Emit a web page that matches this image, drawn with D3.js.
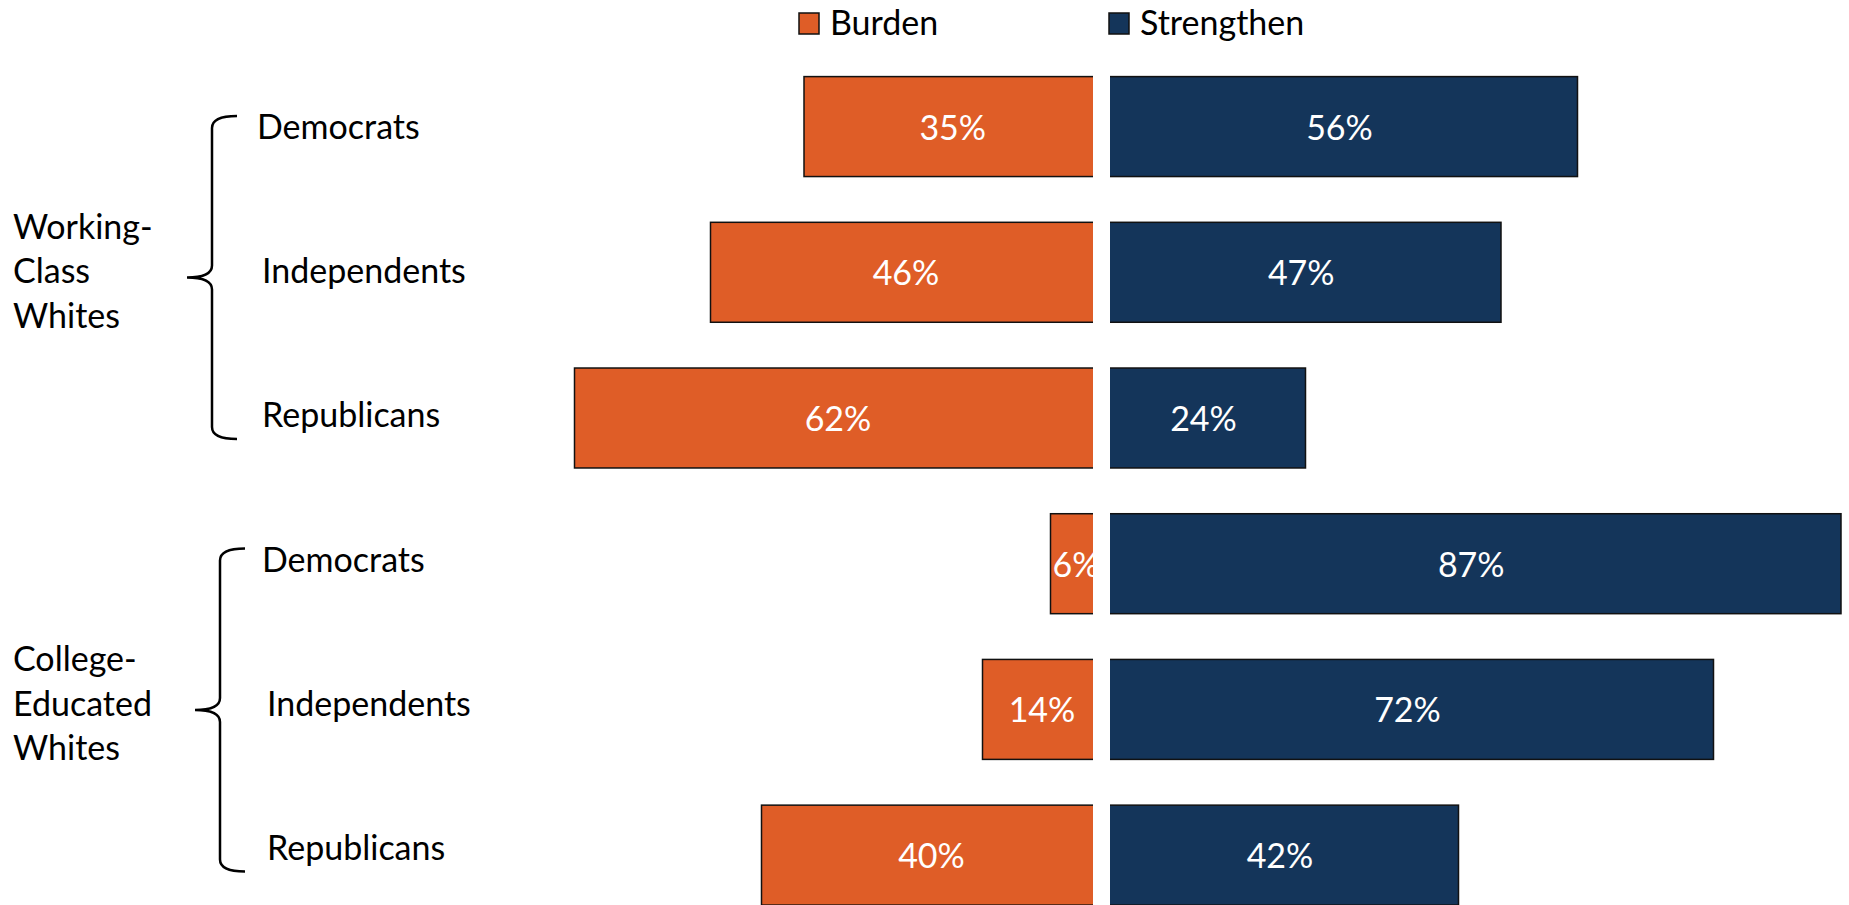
<!DOCTYPE html>
<html>
<head>
<meta charset="utf-8">
<script src="https://cdn.jsdelivr.net/npm/d3@7/dist/d3.min.js"></script>
<style>
  html, body { margin: 0; padding: 0; background: #ffffff; }
  svg { display: block; }
  text { font-family: Lato, "Open Sans", sans-serif; }
</style>
</head>
<body>
<svg id="chart" width="1849" height="905"></svg>
<script>
// ---- data ----
const groups = ["Working-Class Whites", "College-Educated Whites"];
const groupLines = [["Working-", "Class", "Whites"], ["College-", "Educated", "Whites"]];
const parties = ["Democrats", "Independents", "Republicans"];
const burden = [35, 46, 62, 6, 14, 40];
const strengthen = [56, 47, 24, 87, 72, 42];
const seriesNames = ["Burden", "Strengthen"];
const seriesColors = ["#DF5D27", "#14355A"];

// ---- layout ----
const W = 1849, H = 905;
const FS = 34;
const centerX = 1101.5;
const svg = d3.select("#chart");

const rowIds = [];
groups.forEach((g, gi) => parties.forEach(p => rowIds.push(gi + "|" + p)));
const rows = rowIds.map((id, i) => ({
  id, gi: Math.floor(i / parties.length), party: parties[i % parties.length],
  burden: burden[i], strengthen: strengthen[i]
}));

const x = d3.scaleLinear().domain([-100, 100]).range([centerX - 850, centerX + 850]);
const y = d3.scaleBand().domain(rowIds).range([76.6, 905.1]).paddingInner(0.314).paddingOuter(0);
const yL = d3.scalePoint().domain(rowIds).range([139, 860]);

// bars
const bars = svg.append("g");
bars.selectAll("rect.burden").data(rows).join("rect")
  .attr("class", "burden")
  .attr("x", d => x(-d.burden)).attr("width", d => x(0) - x(-d.burden))
  .attr("y", d => y(d.id)).attr("height", y.bandwidth())
  .attr("fill", seriesColors[0]).attr("stroke", "#111").attr("stroke-width", 1.5);
bars.selectAll("rect.strengthen").data(rows).join("rect")
  .attr("class", "strengthen")
  .attr("x", x(0)).attr("width", d => x(d.strengthen) - x(0))
  .attr("y", d => y(d.id)).attr("height", y.bandwidth())
  .attr("fill", seriesColors[1]).attr("stroke", "#111").attr("stroke-width", 1.5);

// value labels
const vl = svg.append("g").attr("fill", "#fff").attr("font-size", FS).attr("text-anchor", "middle");
vl.selectAll("text.b").data(rows).join("text").attr("class", "b")
  .attr("x", d => (x(-d.burden) + x(0)) / 2)
  .attr("y", d => y(d.id) + y.bandwidth() / 2 + 13)
  .text(d => d.burden + "%");
vl.selectAll("text.s").data(rows).join("text").attr("class", "s")
  .attr("x", d => (x(d.strengthen) + x(0)) / 2)
  .attr("y", d => y(d.id) + y.bandwidth() / 2 + 13)
  .text(d => d.strengthen + "%");

// white gap over the center axis
svg.append("rect").attr("x", x(0) - 8.5).attr("width", 17)
  .attr("y", 60).attr("height", H - 60).attr("fill", "#fff");

// category labels
const labelX = [260, 265];
svg.append("g").attr("font-size", FS).attr("fill", "#000")
  .selectAll("text").data(rows).join("text")
  .attr("x", d => labelX[d.gi] + (d.party === "Democrats" ? -3 : 2))
  .attr("y", d => yL(d.id))
  .text(d => d.party);

// group labels + braces
const braceX = [212, 220];
groups.forEach((g, gi) => {
  const ids = rowIds.filter(id => id.startsWith(gi + "|"));
  const top = yL(ids[0]) - 23, bot = yL(ids[ids.length - 1]) + 11.5;
  const mid = (top + bot) / 2;
  const bx = braceX[gi], hook = bx + 25, tip = bx - 25, r = 12;
  const p = d3.path();
  p.moveTo(hook, top);
  p.quadraticCurveTo(bx, top, bx, top + r);
  p.lineTo(bx, mid - r);
  p.quadraticCurveTo(bx, mid, tip, mid);
  p.quadraticCurveTo(bx, mid, bx, mid + r);
  p.lineTo(bx, bot - r);
  p.quadraticCurveTo(bx, bot, hook, bot);
  svg.append("path").attr("d", p.toString()).attr("fill", "none")
    .attr("stroke", "#000").attr("stroke-width", 2.5);

  const midBase = yL(ids[1]);
  const t = svg.append("text").attr("font-size", FS).attr("fill", "#000").attr("x", 13);
  groupLines[gi].forEach((line, li) => {
    t.append("tspan").attr("x", 13).attr("y", midBase + (li - 1) * 44.5).text(line);
  });
});

// legend
const legX = [799, 1109];
const leg = svg.append("g");
seriesNames.forEach((s, i) => {
  leg.append("rect").attr("x", legX[i]).attr("y", 13).attr("width", 20).attr("height", 21)
    .attr("fill", seriesColors[i]).attr("stroke", "#111").attr("stroke-width", 1.5);
  leg.append("text").attr("x", legX[i] + 31).attr("y", 35).attr("font-size", FS)
    .attr("fill", "#000").text(s);
});
</script>
</body>
</html>
